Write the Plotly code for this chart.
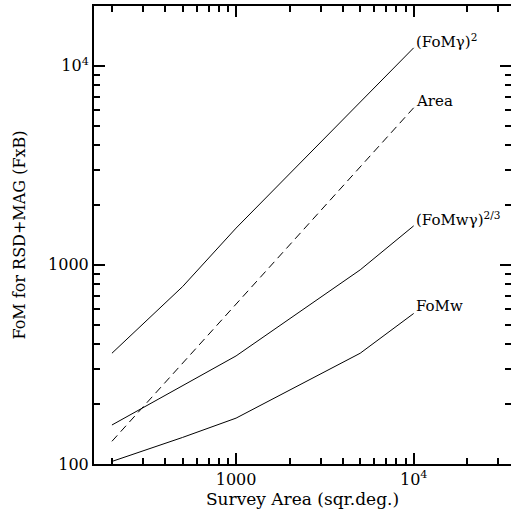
import math
import plotly.graph_objects as go

survey_area = [200, 500, 1000, 5000, 10000]
fom_gamma_sq = [360, 778, 1530, 6600, 12300]
area_curve = [130, 320, 635, 3100, 6150]
fomw_gamma_23 = [157, 247, 349, 944, 1570]
fomw = [103, 136, 170, 360, 570]

series_names = ["(FoMγ)<sup>2</sup>", "Area", "(FoMwγ)<sup>2/3</sup>", "FoMw"]
x_tickvals = [1000, 10000]
x_ticktext = ["1000", "10<sup>4</sup>"]
y_tickvals = [100, 1000, 10000]
y_ticktext = ["100", "1000", "10<sup>4</sup>"]
x_minor = [m * 10 ** e for e in (2, 3, 4) for m in range(2, 10)]
y_minor = [m * 10 ** e for e in (2, 3, 4) for m in range(2, 10)]

X_RANGE = [2.2, 4.548]
Y_RANGE = [2.0, 4.3]
FONT = "DejaVu Serif"

fig = go.Figure()
series = [fom_gamma_sq, area_curve, fomw_gamma_23, fomw]
dashes = ["solid", "dash", "solid", "solid"]
for name, ys, d in zip(series_names, series, dashes):
    fig.add_trace(go.Scatter(
        x=survey_area, y=ys, mode="lines", name=name,
        line=dict(color="black", width=1, dash=("8px,5px" if d == "dash" else d)),
        showlegend=False, hoverinfo="skip",
    ))
    fig.add_annotation(
        x=math.log10(survey_area[-1]), y=math.log10(ys[-1]), xref="x", yref="y",
        text=name, showarrow=False, xanchor="left", yanchor="middle",
        yshift=7, xshift=0,
        font=dict(family=FONT, size=15, color="black"),
    )

fig.add_trace(go.Scatter(x=[None], y=[None], xaxis="x2", yaxis="y2",
                         mode="lines", showlegend=False, hoverinfo="skip"))

major_common = dict(
    type="log", showgrid=False, zeroline=False, automargin=False,
    showline=True, linecolor="black", linewidth=2,
    ticks="inside", ticklen=11, tickwidth=2, tickcolor="black",
    mirror="allticks",
    tickfont=dict(family=FONT, size=16, color="black"),
)
minor_common = dict(
    type="log", showgrid=False, zeroline=False, automargin=False,
    showline=False, ticks="inside", ticklen=6, tickwidth=2, tickcolor="black",
    mirror="allticks", showticklabels=False,
)

fig.update_layout(
    template="none",
    width=511, height=518,
    margin=dict(l=94, r=0, t=6, b=54),
    paper_bgcolor="white", plot_bgcolor="white",
    xaxis=dict(
        **major_common, range=X_RANGE,
        tickvals=x_tickvals, ticktext=x_ticktext,
        title=dict(text="Survey Area (sqr.deg.)", standoff=4,
                   font=dict(family=FONT, size=17, color="black")),
    ),
    yaxis=dict(
        **major_common, range=Y_RANGE,
        tickvals=y_tickvals, ticktext=y_ticktext,
        title=dict(text="FoM for RSD+MAG (FxB)", standoff=18,
                   font=dict(family=FONT, size=16, color="black")),
    ),
    xaxis2=dict(**minor_common, range=X_RANGE, tickvals=x_minor,
                overlaying="x", anchor="y2", side="bottom"),
    yaxis2=dict(**minor_common, range=Y_RANGE, tickvals=y_minor,
                overlaying="y", anchor="x2", side="left"),
)

fig.write_html("out.html", config={"displayModeBar": False},
               post_script="document.body.style.margin='0px';")
